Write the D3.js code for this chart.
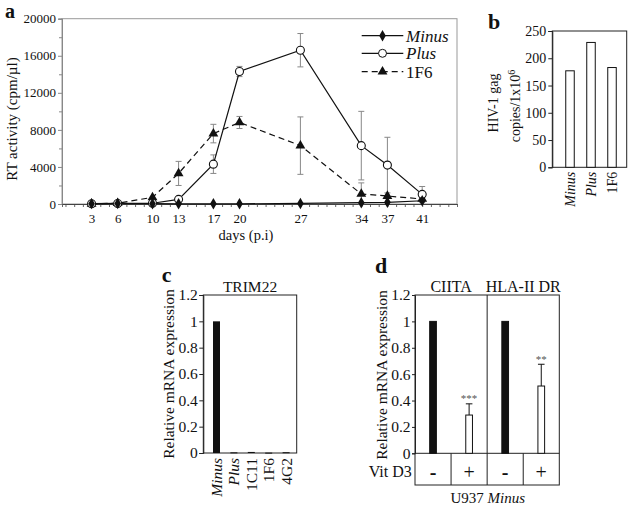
<!DOCTYPE html>
<html><head><meta charset="utf-8">
<script src="https://cdn.jsdelivr.net/npm/d3@7"></script>
<style>
body{margin:0;background:#fff}
svg{display:block}
</style>
</head><body>
<svg id="chart" width="628" height="506" font-family="Liberation Serif"></svg>
<script>
// ---------- Panel a data ----------
const days = [3, 6, 10, 13, 17, 20, 27, 34, 37, 41];
const minusRT = [40, 50, 30, 20, 20, 20, 60, 140, 180, 350];
const plusRT = [30, 60, 80, 500, 4300, 14300, 16600, 6300, 4200, 1040];
const f6RT = [20, 80, 720, 3300, 7600, 8800, 6300, 1080, 860, 540];
const plusErr = [0, 0, 0, 0, 1000, 550, 1800, 3700, 3000, 850];
const f6Err = [0, 0, 0, 1300, 1000, 650, 3100, 1200, 0, 0];
const yTicksA = [0, 4000, 8000, 12000, 16000, 20000];
const seriesNamesA = ["Minus", "Plus", "1F6"];

// ---------- Panel b data ----------
const catsB = ["Minus", "Plus", "1F6"];
const valsB = [177, 229, 183];
const yTicksB = [0, 50, 100, 150, 200, 250];

// ---------- Panel c data ----------
const catsC = ["Minus", "Plus", "1C11", "1F6", "4G2"];
const valsC = [1, 0.005, 0.008, 0.003, 0.006];
const yTicksCD = [0, 0.2, 0.4, 0.6, 0.8, 1, 1.2];

// ---------- Panel d data ----------
const groupsD = ["CIITA", "HLA-II DR"];
const vitD3 = ["-", "+"];
const ciitaVals = [1, 0.29];
const hlaVals = [1, 0.51];
const ciitaErr = [0, 0.085];
const hlaErr = [0, 0.165];
const ciitaStars = ["", "***"];
const hlaStars = ["", "**"];

const FONT = "Liberation Serif";
const italicCats = new Set(["Minus", "Plus"]);
const svg = d3.select("#chart");
const fmtCD = d3.format("~g");

function styleAxis(g, col) {
  g.attr("font-family", FONT);
  g.selectAll(".domain").attr("stroke", col);
  g.selectAll(".tick line").attr("stroke", col);
  g.selectAll(".tick text").attr("fill", "#111");
}
function txt(g) { return g.append("text").attr("font-family", FONT).attr("fill", "#111"); }

// =============== Panel a ===============
(function () {
  const x = d3.scaleLinear().domain([-0.4, 45]).range([62, 457]);
  const y = d3.scaleLinear().domain([0, 20000]).range([204, 18.7]);
  const g = svg.append("g");

  g.append("rect").attr("x", 62).attr("y", 18.7).attr("width", 395).attr("height", 185.3)
    .attr("fill", "none").attr("stroke", "#999").attr("stroke-width", 1);

  const minorY = g.append("g").attr("transform", "translate(62,0)")
    .call(d3.axisLeft(y).tickValues(d3.range(2000, 20000, 4000)).tickSize(3).tickFormat(""));
  styleAxis(minorY, "#888");
  const ay = g.append("g").attr("transform", "translate(62,0)")
    .call(d3.axisLeft(y).tickValues(yTicksA).tickSize(4).tickPadding(2).tickFormat(d3.format("d")));
  styleAxis(ay, "#888");
  ay.attr("font-size", 13);

  const minorX = g.append("g").attr("transform", "translate(0,204)")
    .call(d3.axisBottom(x).tickValues(d3.range(0, 46)).tickSize(3).tickFormat(""));
  styleAxis(minorX, "#666");
  const ax = g.append("g").attr("transform", "translate(0,204)")
    .call(d3.axisBottom(x).tickValues(days).tickSize(0).tickPadding(10).tickFormat(d3.format("d")));
  styleAxis(ax, "#444");
  ax.attr("font-size", 13);

  txt(g).attr("x", 246).attr("y", 235).attr("dy", "0.35em").attr("text-anchor", "middle")
    .attr("font-size", 14.5).text("days (p.i)");
  txt(g).attr("transform", "translate(12,119) rotate(-90)").attr("dy", "0.35em")
    .attr("text-anchor", "middle").attr("font-size", 15).text("RT activity (cpm/µl)");
  txt(g).attr("x", 5).attr("y", 18).attr("font-size", 20).attr("font-weight", "bold").text("a");

  function errBars(vals, errs) {
    days.forEach((d, i) => {
      if (!errs[i]) return;
      const cx = x(d), y1 = y(vals[i] + errs[i]), y0 = y(Math.max(0, vals[i] - errs[i]));
      g.append("line").attr("x1", cx).attr("x2", cx).attr("y1", y1).attr("y2", y0).attr("stroke", "#888");
      [y1, y0].forEach(yy => g.append("line").attr("x1", cx - 3).attr("x2", cx + 3).attr("y1", yy).attr("y2", yy).attr("stroke", "#888"));
    });
  }
  errBars(plusRT, plusErr);
  errBars(f6RT, f6Err);

  const line = d3.line().x((d, i) => x(days[i])).y(d => y(d));
  g.append("path").datum(f6RT).attr("d", line).attr("fill", "none").attr("stroke", "#111")
    .attr("stroke-width", 1.2).attr("stroke-dasharray", "6,4");
  g.append("path").datum(plusRT).attr("d", line).attr("fill", "none").attr("stroke", "#111").attr("stroke-width", 1.2);
  g.append("path").datum(minusRT).attr("d", line).attr("fill", "none").attr("stroke", "#111").attr("stroke-width", 1.2);

  const tri = d3.symbol(d3.symbolTriangle, 42)();
  const dia = d3.symbol(d3.symbolDiamond, 38)();
  g.selectAll(".tri").data(f6RT).join("path").attr("d", tri)
    .attr("transform", (d, i) => `translate(${x(days[i])},${y(d)})`).attr("fill", "#111");
  g.selectAll(".circ").data(plusRT).join("circle").attr("cx", (d, i) => x(days[i])).attr("cy", d => y(d))
    .attr("r", 4).attr("fill", "#fff").attr("stroke", "#111").attr("stroke-width", 1.1);
  g.selectAll(".dia").data(minusRT).join("path").attr("d", dia)
    .attr("transform", (d, i) => `translate(${x(days[i])},${y(d)})`).attr("fill", "#111");

  const ly = [35.7, 53.3, 71.7];
  seriesNamesA.forEach((name, i) => {
    g.append("line").attr("x1", 361.7).attr("x2", 403.3).attr("y1", ly[i]).attr("y2", ly[i])
      .attr("stroke", "#111").attr("stroke-width", 1.2).attr("stroke-dasharray", i === 2 ? "6,4" : null);
    if (i === 0) g.append("path").attr("d", dia).attr("transform", `translate(382.5,${ly[i]})`).attr("fill", "#111");
    if (i === 1) g.append("circle").attr("cx", 382.5).attr("cy", ly[i]).attr("r", 4).attr("fill", "#fff").attr("stroke", "#111");
    if (i === 2) g.append("path").attr("d", tri).attr("transform", `translate(382.5,${ly[i]})`).attr("fill", "#111");
    txt(g).attr("x", 406).attr("y", ly[i]).attr("dy", "0.35em").attr("font-size", 17)
      .attr("font-style", italicCats.has(name) ? "italic" : "normal").text(name);
  });
})();

// =============== Panel b ===============
(function () {
  const x = d3.scaleBand().domain(catsB).range([559.5, 622.5]);
  const y = d3.scaleLinear().domain([0, 250]).range([167.3, 31]);
  const g = svg.append("g");
  g.append("rect").attr("x", 552.3).attr("y", 31).attr("width", 74.4).attr("height", 136.3)
    .attr("fill", "none").attr("stroke", "#222");
  const ay = g.append("g").attr("transform", "translate(552.3,0)")
    .call(d3.axisLeft(y).tickValues(yTicksB).tickSize(4).tickPadding(2));
  styleAxis(ay, "#222");
  ay.attr("font-size", 14);
  const bw = 8.5;
  g.selectAll(".bar").data(valsB).join("rect")
    .attr("x", (d, i) => x(catsB[i]) + x.bandwidth() / 2 - bw / 2).attr("y", d => y(d))
    .attr("width", bw).attr("height", d => y(0) - y(d)).attr("fill", "#fff").attr("stroke", "#111");
  catsB.forEach(c => {
    txt(g).attr("transform", `translate(${x(c) + x.bandwidth() / 2},171.7) rotate(-90)`)
      .attr("dy", "0.35em").attr("text-anchor", "end").attr("font-size", 14)
      .attr("font-style", italicCats.has(c) ? "italic" : "normal").text(c);
  });
  txt(g).attr("transform", "translate(493,103) rotate(-90)").attr("dy", "0.35em")
    .attr("text-anchor", "middle").attr("font-size", 14).text("HIV-1 gag");
  const t2 = txt(g).attr("transform", "translate(515,106) rotate(-90)").attr("dy", "0.35em")
    .attr("text-anchor", "middle").attr("font-size", 14);
  t2.append("tspan").text("copies/1x10");
  t2.append("tspan").attr("font-size", 10).attr("dy", "-0.5em").text("6");
  txt(g).attr("x", 488).attr("y", 29).attr("font-size", 22).attr("font-weight", "bold").text("b");
})();

// =============== Panel c ===============
(function () {
  const x = d3.scaleBand().domain(catsC).range([207.8, 294.8]);
  const y = d3.scaleLinear().domain([0, 1.2]).range([453, 295]);
  const g = svg.append("g");
  g.append("rect").attr("x", 203.3).attr("y", 295).attr("width", 93.4).attr("height", 158)
    .attr("fill", "none").attr("stroke", "#222");
  const ay = g.append("g").attr("transform", "translate(203.3,0)")
    .call(d3.axisLeft(y).tickValues(yTicksCD).tickSize(4).tickPadding(1.5).tickFormat(fmtCD));
  styleAxis(ay, "#222");
  ay.attr("font-size", 15.5);
  const bw = 7;
  g.selectAll(".bar").data(valsC).join("rect")
    .attr("x", (d, i) => x(catsC[i]) + x.bandwidth() / 2 - bw / 2).attr("y", d => y(d))
    .attr("width", bw).attr("height", d => Math.max(1, y(0) - y(d))).attr("fill", "#111");
  catsC.forEach(c => {
    txt(g).attr("transform", `translate(${x(c) + x.bandwidth() / 2},458) rotate(-90)`)
      .attr("dy", "0.35em").attr("text-anchor", "end").attr("font-size", 15.5)
      .attr("font-style", italicCats.has(c) ? "italic" : "normal").text(c);
  });
  txt(g).attr("x", 250).attr("y", 286.7).attr("dy", "0.35em").attr("text-anchor", "middle")
    .attr("font-size", 15.5).text("TRIM22");
  txt(g).attr("transform", "translate(168.3,374) rotate(-90)").attr("dy", "0.35em")
    .attr("text-anchor", "middle").attr("font-size", 15.5).text("Relative mRNA expression");
  txt(g).attr("x", 166.7).attr("y", 282).attr("text-anchor", "middle").attr("font-size", 22)
    .attr("font-weight", "bold").text("c");
})();

// =============== Panel d ===============
(function () {
  const outer = d3.scaleBand().domain(groupsD).range([415, 559.3]);
  const inner = d3.scaleBand().domain(vitD3).range([0, outer.bandwidth()]);
  const y = d3.scaleLinear().domain([0, 1.2]).range([453.3, 295]);
  const g = svg.append("g");
  const L = 415, R = 559.3, T = 295, Z = 453.3, B = 485;
  g.append("rect").attr("x", L).attr("y", T).attr("width", R - L).attr("height", B - T)
    .attr("fill", "none").attr("stroke", "#222");
  g.append("line").attr("x1", L).attr("x2", R).attr("y1", Z).attr("y2", Z).attr("stroke", "#222");
  groupsD.forEach((gr, gi) => {
    if (gi > 0) g.append("line").attr("x1", outer(gr)).attr("x2", outer(gr)).attr("y1", T).attr("y2", B).attr("stroke", "#222");
    const mx = outer(gr) + inner("+");
    g.append("line").attr("x1", mx).attr("x2", mx).attr("y1", Z).attr("y2", B).attr("stroke", "#222");
    txt(g).attr("x", outer(gr) + outer.bandwidth() / 2).attr("y", 286.7).attr("dy", "0.35em")
      .attr("text-anchor", "middle").attr("font-size", 16).text(gr);
  });
  const ay = g.append("g").attr("transform", `translate(${L},0)`)
    .call(d3.axisLeft(y).tickValues(yTicksCD).tickSize(3).tickPadding(1.5).tickFormat(fmtCD));
  styleAxis(ay, "#222");
  ay.attr("font-size", 15.5);

  const vals = [ciitaVals, hlaVals], errs = [ciitaErr, hlaErr], stars = [ciitaStars, hlaStars];
  const bw = 6.7;
  groupsD.forEach((gr, gi) => {
    vitD3.forEach((v, vi) => {
      const cx = outer(gr) + inner(v) + inner.bandwidth() / 2;
      const val = vals[gi][vi], e = errs[gi][vi];
      if (e) {
        g.append("line").attr("x1", cx).attr("x2", cx).attr("y1", y(val)).attr("y2", y(val + e)).attr("stroke", "#111");
        g.append("line").attr("x1", cx - 3.3).attr("x2", cx + 3.3).attr("y1", y(val + e)).attr("y2", y(val + e)).attr("stroke", "#111");
      }
      g.append("rect").attr("x", cx - bw / 2).attr("y", y(val)).attr("width", bw).attr("height", y(0) - y(val))
        .attr("fill", vi === 0 ? "#111" : "#fff").attr("stroke", "#111");
      if (stars[gi][vi]) {
        g.append("text").attr("font-family", FONT).attr("x", cx).attr("y", y(val + e) - 1.5).attr("text-anchor", "middle")
          .attr("font-size", 11).attr("fill", "#555").text(stars[gi][vi]);
      }
      txt(g).attr("x", cx).attr("y", 471.7).attr("dy", "0.35em").attr("text-anchor", "middle")
        .attr("font-size", 20).attr("font-weight", v === "-" ? "bold" : "normal").text(v);
    });
  });
  txt(g).attr("x", 411.7).attr("y", 471.7).attr("dy", "0.35em").attr("text-anchor", "end")
    .attr("font-size", 16).text("Vit D3");
  const u = txt(g).attr("x", 487.8).attr("y", 497.5).attr("dy", "0.35em").attr("text-anchor", "middle")
    .attr("font-size", 15);
  u.append("tspan").text("U937 ");
  u.append("tspan").attr("font-style", "italic").text("Minus");
  txt(g).attr("transform", "translate(381.7,375) rotate(-90)").attr("dy", "0.35em")
    .attr("text-anchor", "middle").attr("font-size", 15.5).text("Relative mRNA expression");
  txt(g).attr("x", 381).attr("y", 273).attr("text-anchor", "middle").attr("font-size", 22)
    .attr("font-weight", "bold").text("d");
})();
</script>
</body></html>
